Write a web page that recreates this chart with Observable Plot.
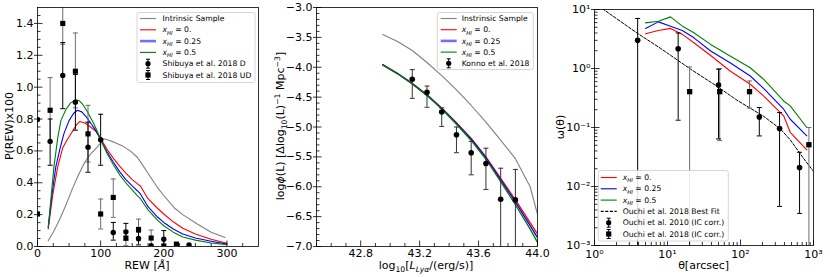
<!DOCTYPE html>
<html><head><meta charset="utf-8">
<script src="https://cdn.jsdelivr.net/npm/d3@7"></script>
<script src="https://cdn.jsdelivr.net/npm/@observablehq/plot@0.6"></script>
<style>
body{margin:0;background:#fff;}
#wrap{display:flex;width:830px;height:277px;overflow:hidden;}
svg{display:block;flex:none;}
text{white-space:pre;}
</style></head><body><div id="wrap"></div>
<script>
// ---------------- Panel 1: P(REW) ----------------
const p1XTicks = [0, 100, 200, 300];
const p1XMinor = [25, 50, 75, 125, 150, 175, 225, 250, 275, 325];
const p1YTicks = [0, 0.2, 0.4, 0.6, 0.8, 1.0, 1.2, 1.4];
const p1YMinor = [0.05,0.1,0.15,0.25,0.3,0.35,0.45,0.5,0.55,0.65,0.7,0.75,0.85,0.9,0.95,1.05,1.1,1.15,1.25,1.3,1.35,1.45];

const rewIntrX = [17,25,35,45,55,65,75,85,95,105,112,121,135,147,158,165,175,190,200,216,230,253,275,297];
const rewIntrY = [0.036,0.09,0.17,0.26,0.36,0.45,0.53,0.585,0.625,0.676,0.668,0.655,0.63,0.60,0.56,0.52,0.46,0.37,0.32,0.245,0.20,0.141,0.09,0.057];
const rewRedX = [17,24,32,40,47,55,62,67,75,84,92,100,110,120,130,140,150,158,163,175,190,200,215,230,250,275,300];
const rewRedY = [0.11,0.32,0.50,0.62,0.67,0.72,0.765,0.785,0.775,0.75,0.725,0.68,0.61,0.555,0.505,0.46,0.42,0.395,0.38,0.30,0.24,0.204,0.155,0.115,0.078,0.045,0.02];
const rewBlueX = [17,23,29,36,42,50,57,63,70,77,84,92,100,110,120,130,140,150,158,163,175,190,200,215,230,250,275,300];
const rewBlueY = [0.12,0.33,0.50,0.62,0.71,0.79,0.835,0.855,0.845,0.815,0.775,0.73,0.67,0.595,0.53,0.47,0.42,0.38,0.35,0.33,0.25,0.185,0.151,0.11,0.078,0.053,0.033,0.015];
const rewGreenX = [17,22,26,32,37,45,52,60,66,72,80,88,95,100,110,120,130,140,150,158,163,175,190,200,215,230,250,275,300];
const rewGreenY = [0.12,0.33,0.50,0.68,0.79,0.86,0.90,0.92,0.915,0.89,0.84,0.78,0.72,0.67,0.585,0.515,0.45,0.40,0.355,0.32,0.30,0.23,0.165,0.13,0.09,0.06,0.04,0.022,0.012];

const shibDX  = [0, 20, 40, 60, 80, 100, 120, 140, 160, 180, 200, 240];
const shibDY  = [0.797, 0.66, 1.074, 0.906, 0.623, 0.67, 0.088, 0.092, 0.05, 0.005, 0.046, 0.01];
const shibDLo = [null, 0.51, 0.865, 0.73, 0.466, 0.51, 0.04, 0.04, 0.01, null, 0.0, null];
const shibDHi = [null, 0.80, 1.28, 1.08, 0.78, 0.83, 0.151, 0.145, 0.09, null, 0.10, null];
const shibUDX  = [0, 20, 40, 60, 80, 100, 120, 140, 160, 180, 200, 220];
const shibUDY  = [0.204, 0.855, 1.40, 1.10, 0.707, 0.204, 0.308, 0.053, 0.107, 0.053, 0.003, 0.015];
const shibUDLo = [null, 0.65, 1.27, 0.87, 0.53, 0.11, 0.183, 0.005, 0.036, 0.003, null, null];
const shibUDHi = [null, 1.06, 1.54, 1.34, 0.886, 0.298, 0.424, 0.10, 0.172, 0.103, null, null];

// ---------------- Panel 2: luminosity function ----------------
const p2XTicks = [42.8, 43.2, 43.6, 44.0];
const p2XMinor = [42.5,42.6,42.7,42.9,43.0,43.1,43.3,43.4,43.5,43.7,43.8,43.9];
const p2YTicks = [-3.0,-3.5,-4.0,-4.5,-5.0,-5.5,-6.0,-6.5,-7.0];
const p2YMinor = [-3.1,-3.2,-3.3,-3.4,-3.6,-3.7,-3.8,-3.9,-4.1,-4.2,-4.3,-4.4,-4.6,-4.7,-4.8,-4.9,-5.1,-5.2,-5.3,-5.4,-5.6,-5.7,-5.8,-5.9,-6.1,-6.2,-6.3,-6.4,-6.6,-6.7,-6.8,-6.9];

const lfX     = [42.95, 43.05, 43.15, 43.25, 43.35, 43.45, 43.55, 43.65, 43.75, 43.85, 43.95, 44.0];
const lfIntr  = [-3.45, -3.57, -3.72, -3.92, -4.14, -4.38, -4.64, -4.92, -5.22, -5.53, -6.00, -6.46];
const lfRed   = [-3.955, -4.10, -4.27, -4.46, -4.68, -4.93, -5.19, -5.50, -5.86, -6.22, -6.60, -6.79];
const lfBlue  = [-3.96, -4.105, -4.275, -4.465, -4.69, -4.94, -5.205, -5.515, -5.885, -6.255, -6.65, -6.85];
const lfGreen = [-3.965, -4.11, -4.28, -4.475, -4.70, -4.955, -5.225, -5.54, -5.915, -6.30, -6.71, -6.93];

const konnoX  = [43.15, 43.25, 43.35, 43.45, 43.55, 43.65, 43.75, 43.85];
const konnoY  = [-4.20, -4.42, -4.75, -5.13, -5.43, -5.61, -6.21, -6.22];
const konnoHi = [-4.04, -4.315, -4.68, -5.00, -5.24, -5.355, -5.69, -5.71];
const konnoLo = [-4.52, -4.67, -4.99, -5.43, -5.80, -6.045, -7.5, -7.5];

// ---------------- Panel 3: angular correlation ----------------
const p3XTicks = [1, 10, 100, 1000];
const p3XLabels = ["10\u2070", "10\u00b9", "10\u00b2", "10\u00b3"];
const p3YTicks = [0.001, 0.01, 0.1, 1, 10];
const p3YLabels = ["10\u207b\u00b3", "10\u207b\u00b2", "10\u207b\u00b9", "10\u2070", "10\u00b9"];
const p3XMinor = [2,3,4,5,6,7,8,9,20,30,40,50,60,70,80,90,200,300,400,500,600,700,800,900];
const p3YMinor = [0.002,0.003,0.004,0.005,0.006,0.007,0.008,0.009,0.02,0.03,0.04,0.05,0.06,0.07,0.08,0.09,0.2,0.3,0.4,0.5,0.6,0.7,0.8,0.9,2,3,4,5,6,7,8,9];

const acfTheta = [5, 7.5, 11, 16, 23, 39, 72, 136, 207, 390, 480, 810];
const acfRed   = [3.87, 4.42, 4.78, 3.78, 2.73, 1.66, 0.908, 0.541, 0.343, 0.158, 0.083, 0.0417];
const acfBlue  = [4.78, 6.17, 5.22, 4.42, 3.31, 1.98, 1.25, 0.746, 0.462, 0.204, 0.138, 0.0724];
const acfGreen = [5.94, 6.31, 7.5, 5.22, 4.03, 2.56, 1.63, 1.03, 0.658, 0.282, 0.233, 0.100];
const fitTheta = [1, 1.27, 3.84, 8, 20.6, 47.6, 89.5, 207, 350, 479, 730, 1000];
const fitOmega = [12.6, 10.4, 3.98, 2.2, 0.98, 0.50, 0.29, 0.155, 0.095, 0.062, 0.030, 0.018];

const o10X  = [3.9, 14, 50, 181, 343, 644];
const o10Y  = [3.0, 2.16, 0.526, 0.15, 0.096, 0.021];
const o10Hi = [7.05, 4.0, 0.97, 0.218, 0.179, 0.038];
const o10Lo = [0.0001, 0.133, 0.064, 0.072, 0.0046, 0.0035];
const o18X  = [20.1, 51.9, 133, 865];
const o18Y  = [0.405, 0.405, 0.405, 0.051];
const o18Hi = [1.06, 1.0, 0.615, 0.10];
const o18Lo = [0.0001, 0.06, 0.213, 0.0001];

// ---------------- helpers ----------------
const FONT = "DejaVu Sans";
const FS = 11, LFS = 7.7;
const tbl = (X, Y) => X.map((x, i) => ({x, y: Y[i]}));
const etbl = (X, Y, Lo, Hi) => X.map((x, i) => ({x, y: Y[i], lo: Lo[i], hi: Hi[i]}));

const symLeftMaj = {draw(c){c.moveTo(-3.5,0);c.lineTo(5,0);}};
const symLeftMin = {draw(c){c.moveTo(0,0);c.lineTo(3,0);}};
const symBotMaj = {draw(c){c.moveTo(0,0);c.lineTo(0,-6);}};
const symBotMin = {draw(c){c.moveTo(0,0);c.lineTo(0,-3.5);}};
const capSym = {draw(c){c.moveTo(-2.5,0);c.lineTo(2.5,0);}};

function tickMarks(xMaj, xMin, yMaj, yMin, xLab, yLab, xdy) {
  const st = {stroke: "black", fill: "none", strokeWidth: 0.8};
  return [
    Plot.dot(xMaj, {x: d => d, frameAnchor: "bottom", symbol: symBotMaj, ...st}),
    Plot.dot(xMin, {x: d => d, frameAnchor: "bottom", symbol: symBotMin, ...st}),
    Plot.dot(yMaj, {y: d => d, frameAnchor: "left", symbol: symLeftMaj, ...st}),
    Plot.dot(yMin, {y: d => d, frameAnchor: "left", symbol: symLeftMin, ...st}),
    Plot.text(xMaj, {x: d => d, frameAnchor: "bottom", lineAnchor: "top", dy: xdy || 3, text: xLab, fontSize: FS, fill: "black"}),
    Plot.text(yMaj, {y: d => d, frameAnchor: "left", textAnchor: "end", dx: -4, text: yLab, fontSize: FS, fill: "black"})
  ];
}
function errorBars(data, color) {
  const d = data.filter(e => e.hi != null);
  return [
    Plot.ruleX(d, {x: "x", y1: "lo", y2: "hi", stroke: color, strokeWidth: 1, clip: true}),
    Plot.dot(d, {x: "x", y: "hi", symbol: capSym, stroke: color, fill: "none", strokeWidth: 1, clip: true}),
    Plot.dot(d, {x: "x", y: "lo", symbol: capSym, stroke: color, fill: "none", strokeWidth: 1, clip: true})
  ];
}
function rich(textSel, parts, fs) {
  let cur = 0;
  parts.forEach(p => {
    const size = (p.sub || p.sup) ? fs * 0.7 : fs;
    const target = p.sub ? fs * 0.28 : p.sup ? -fs * 0.4 : 0;
    const ts = textSel.append("tspan").text(p.t).attr("font-size", size);
    if (p.i) ts.attr("font-style", "italic");
    if (target !== cur) { ts.attr("dy", target - cur); cur = target; }
  });
}
function label(svg, x, y, parts, rotate) {
  const t = d3.select(svg).append("text")
    .attr("text-anchor", "middle").attr("font-family", FONT).attr("font-size", FS).attr("fill", "black")
    .attr("transform", `translate(${x},${y})` + (rotate ? " rotate(-90)" : ""));
  rich(t, parts, FS);
}
function legend(svg, box, rows) {
  const g = d3.select(svg).append("g").attr("font-family", FONT).attr("font-size", LFS).attr("text-anchor", "start");
  g.append("rect").attr("x", box.x).attr("y", box.y).attr("width", box.w).attr("height", box.h)
    .attr("rx", 2).attr("fill", "white").attr("fill-opacity", 0.85).attr("stroke", "#cccccc").attr("stroke-width", 0.8);
  rows.forEach((r, i) => {
    const cy = box.row0 + i * box.dy;
    if (r.kind === "line") {
      g.append("line").attr("x1", box.hx).attr("x2", box.hx + 16).attr("y1", cy).attr("y2", cy)
        .attr("stroke", r.color).attr("stroke-width", r.width || 1.1)
        .attr("stroke-dasharray", r.dash || null).attr("stroke-opacity", r.opacity || 1);
    } else {
      const cx = box.hx + 8;
      g.append("line").attr("x1", cx).attr("x2", cx).attr("y1", cy - 4.5).attr("y2", cy + 4.5).attr("stroke", "black");
      g.append("line").attr("x1", cx - 2).attr("x2", cx + 2).attr("y1", cy - 4.5).attr("y2", cy - 4.5).attr("stroke", "black");
      g.append("line").attr("x1", cx - 2).attr("x2", cx + 2).attr("y1", cy + 4.5).attr("y2", cy + 4.5).attr("stroke", "black");
      if (r.kind === "circle") g.append("circle").attr("cx", cx).attr("cy", cy).attr("r", 2.6).attr("fill", "black");
      else g.append("rect").attr("x", cx - 2.6).attr("y", cy - 2.6).attr("width", 5.2).attr("height", 5.2).attr("fill", "black");
    }
    const t = g.append("text").attr("x", box.tx).attr("y", cy + LFS * 0.35).attr("fill", "black").attr("text-anchor", "start");
    rich(t, r.label, LFS);
  });
}
const xhi = v => [{t: "x", i: 1}, {t: "HI", i: 1, sub: 1}, {t: " = " + v}];
const style = {fontFamily: FONT, fontSize: FS + "px", background: "white", color: "black", overflow: "visible"};
const f1 = d3.format(".1f");

// ---------------- Build panel 1 ----------------
const dD = etbl(shibDX, shibDY, shibDLo, shibDHi);
const dUD = etbl(shibUDX, shibUDY, shibUDLo, shibUDHi);
const svg1 = Plot.plot({
  width: 270, height: 277, marginLeft: 37, marginRight: 12, marginTop: 7, marginBottom: 31,
  style,
  x: {domain: [0, 350], axis: null},
  y: {domain: [0, 1.5], axis: null},
  marks: [
    Plot.line(tbl(rewIntrX, rewIntrY), {x: "x", y: "y", stroke: "gray", strokeWidth: 1.1, clip: true}),
    Plot.line(tbl(rewRedX, rewRedY), {x: "x", y: "y", stroke: "#ff0000", strokeWidth: 1.1, clip: true}),
    Plot.line(tbl(rewBlueX, rewBlueY), {x: "x", y: "y", stroke: "#0000ff", strokeWidth: 1.1, clip: true}),
    Plot.line(tbl(rewGreenX, rewGreenY), {x: "x", y: "y", stroke: "#008000", strokeWidth: 1.1, clip: true}),
    ...errorBars(dUD, "#6e6e6e"),
    ...errorBars(dD, "black"),
    Plot.dot(dD, {x: "x", y: "y", r: 2.7, fill: "black", clip: true}),
    Plot.dot(dUD, {x: "x", y: "y", symbol: "square", r: 2.9, fill: "black", clip: true}),
    ...tickMarks(p1XTicks, p1XMinor, p1YTicks, p1YMinor, d => String(d), d => f1(d)),
    Plot.frame({stroke: "black", strokeWidth: 0.8})
  ]
});
label(svg1, 147, 269, [{t: "REW ["}, {t: "Å", i: 1}, {t: "]"}]);
label(svg1, 13, 126, [{t: "P(REW)x100"}], true);
legend(svg1, {x: 137, y: 12.5, w: 118, h: 70, row0: 18.5, dy: 11.3, hx: 140, tx: 162.5}, [
  {kind: "line", color: "gray", label: [{t: "Intrinsic Sample"}]},
  {kind: "line", color: "#ff0000", label: xhi("0.")},
  {kind: "line", color: "#7070ff", width: 2.6, label: xhi("0.25")},
  {kind: "line", color: "#008000", label: xhi("0.5")},
  {kind: "circle", label: [{t: "Shibuya et al. 2018 D"}]},
  {kind: "square", label: [{t: "Shibuya et al. 2018 UD"}]}
]);

// ---------------- Build panel 2 ----------------
const dK = etbl(konnoX, konnoY, konnoLo, konnoHi);
const svg2 = Plot.plot({
  width: 280, height: 277, marginLeft: 46, marginRight: 13, marginTop: 7, marginBottom: 31,
  style,
  x: {domain: [42.5, 44.0], axis: null},
  y: {domain: [-7, -3], axis: null},
  marks: [
    Plot.line(tbl(lfX, lfIntr), {x: "x", y: "y", stroke: "gray", strokeWidth: 1.1, clip: true}),
    Plot.line(tbl(lfX, lfRed), {x: "x", y: "y", stroke: "#ff0000", strokeWidth: 1.3, clip: true}),
    Plot.line(tbl(lfX, lfBlue), {x: "x", y: "y", stroke: "#0000ff", strokeWidth: 1.3, clip: true}),
    Plot.line(tbl(lfX, lfGreen), {x: "x", y: "y", stroke: "#008000", strokeWidth: 1.3, clip: true}),
    ...errorBars(dK, "#333333"),
    Plot.dot(dK, {x: "x", y: "y", r: 2.8, fill: "black", clip: true}),
    ...tickMarks(p2XTicks, p2XMinor, p2YTicks, p2YMinor, d => f1(d), d => f1(d)),
    Plot.frame({stroke: "black", strokeWidth: 0.8})
  ]
});
label(svg2, 156, 269, [{t: "log"}, {t: "10", sub: 1}, {t: "["}, {t: "L", i: 1}, {t: "Lyα", i: 1, sub: 1}, {t: "/(erg/s)]"}]);
label(svg2, 14, 126, [{t: "log"}, {t: "ϕ", i: 1}, {t: "(L) [Δlog"}, {t: "10", sub: 1}, {t: "(L)"}, {t: "−1", sup: 1}, {t: " Mpc"}, {t: "−3", sup: 1}, {t: "]"}], true);
legend(svg2, {x: 167.3, y: 12.5, w: 96, h: 57, row0: 18.5, dy: 11.2, hx: 170.7, tx: 191.7}, [
  {kind: "line", color: "gray", label: [{t: "Instrinsic Sample"}]},
  {kind: "line", color: "#ff0000", label: xhi("0.")},
  {kind: "line", color: "#7070ff", width: 2.6, label: xhi("0.25")},
  {kind: "line", color: "#008000", label: xhi("0.5")},
  {kind: "circle", label: [{t: "Konno et al. 2018"}]}
]);

// ---------------- Build panel 3 ----------------
const d10 = etbl(o10X, o10Y, o10Lo, o10Hi);
const d18 = etbl(o18X, o18Y, o18Lo, o18Hi);
const svg3 = Plot.plot({
  width: 280, height: 277, marginLeft: 44, marginRight: 17, marginTop: 9, marginBottom: 32,
  style,
  x: {type: "log", domain: [1, 1000], axis: null},
  y: {type: "log", domain: [0.001, 10], axis: null},
  marks: [
    Plot.line(tbl(acfTheta, acfRed), {x: "x", y: "y", stroke: "#ff0000", strokeWidth: 1.1, clip: true}),
    Plot.line(tbl(acfTheta, acfBlue), {x: "x", y: "y", stroke: "#0000ff", strokeWidth: 1.1, clip: true}),
    Plot.line(tbl(acfTheta, acfGreen), {x: "x", y: "y", stroke: "#008000", strokeWidth: 1.1, clip: true}),
    Plot.line(tbl(fitTheta, fitOmega), {x: "x", y: "y", stroke: "black", strokeWidth: 1, strokeDasharray: "3,1.6", clip: true}),
    ...errorBars(d18, "#6e6e6e"),
    ...errorBars(d10, "black"),
    Plot.dot(d10, {x: "x", y: "y", r: 2.8, fill: "black", clip: true}),
    Plot.dot(d18, {x: "x", y: "y", symbol: "square", r: 3.0, fill: "black", clip: true}),
    ...tickMarks(p3XTicks, p3XMinor, p3YTicks, p3YMinor, (d, i) => p3XLabels[i], (d, i) => p3YLabels[i], 5),
    Plot.frame({stroke: "black", strokeWidth: 0.8})
  ]
});
label(svg3, 153.6, 269, [{t: "θ[arcsec]"}]);
label(svg3, 14, 127, [{t: "ω(θ)"}], true);
legend(svg3, {x: 48.3, y: 170.5, w: 130, h: 70.5, row0: 177.5, dy: 11.3, hx: 50.7, tx: 72.7}, [
  {kind: "line", color: "#ff0000", label: xhi("0.")},
  {kind: "line", color: "#0000ff", label: xhi("0.25")},
  {kind: "line", color: "#008000", label: xhi("0.5")},
  {kind: "line", color: "black", dash: "3,1.6", label: [{t: "Ouchi et al. 2018 Best Fit"}]},
  {kind: "circle", label: [{t: "Ouchi et al. 2010 (IC corr.)"}]},
  {kind: "square", label: [{t: "Ouchi et al. 2018 (IC corr.)"}]}
]);

const wrap = document.getElementById("wrap");
wrap.appendChild(svg1);
wrap.appendChild(svg2);
wrap.appendChild(svg3);
</script>
</body></html>
